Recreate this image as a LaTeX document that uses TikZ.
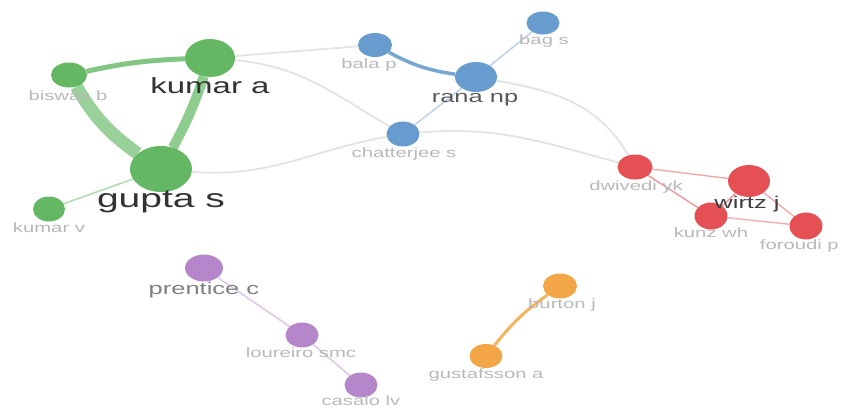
\documentclass[tikz,border=0pt]{standalone}
\usepackage{fontspec}
\setmainfont{Liberation Sans}
\usetikzlibrary{shapes.geometric}
\begin{document}
\begin{tikzpicture}[x=1pt,y=-1pt,
  au/.style 2 args={ellipse,inner sep=0pt,minimum width=#1,minimum height=#2,draw=none},
  lab/.style={text=black!28,font=\fontsize{13.5}{16}\selectfont,inner sep=0pt,xscale=1.5},
  labm/.style={text=black!65,font=\fontsize{17}{20}\selectfont,inner sep=0pt,xscale=1.5},
  labb/.style={text=black!80,font=\fontsize{22}{26}\selectfont,inner sep=0pt,xscale=1.5},
  weak/.style={draw=black!11,line width=1.8pt},
]
\useasboundingbox (0,0) rectangle (841,410);
\definecolor{cg}{RGB}{100,184,100}
\definecolor{cb}{RGB}{104,156,206}
\definecolor{cr}{RGB}{228,80,84}
\definecolor{cp}{RGB}{182,134,202}
\definecolor{co}{RGB}{242,166,72}
\pgfdeclarelayer{bg}\pgfsetlayers{bg,main}
% nodes
\node[au={50pt}{38pt},fill=cg] (ka) at (210,58) {};
\node[au={36pt}{25pt},fill=cg] (bb) at (69,75) {};
\node[au={62pt}{46pt},fill=cg] (gs) at (161,169) {};
\node[au={32pt}{25pt},fill=cg] (kv) at (49,209) {};
\node[au={34pt}{24pt},fill=cb] (bp) at (375,45) {};
\node[au={33pt}{23pt},fill=cb] (bs) at (543,23) {};
\node[au={42pt}{30pt},fill=cb] (rn) at (476,77) {};
\node[au={33pt}{25pt},fill=cb] (cs) at (403,134) {};
\node[au={35pt}{25pt},fill=cr] (dy) at (635,167) {};
\node[au={42pt}{32pt},fill=cr] (wj) at (749,181) {};
\node[au={33pt}{27pt},fill=cr] (kw) at (711,216) {};
\node[au={33pt}{27pt},fill=cr] (fp) at (806,226) {};
\node[au={38pt}{27pt},fill=cp] (pc) at (204,268) {};
\node[au={33pt}{25pt},fill=cp] (ls) at (302,335) {};
\node[au={33pt}{25pt},fill=cp] (cl) at (361,385) {};
\node[au={34pt}{25pt},fill=co] (bj) at (560,286) {};
\node[au={33pt}{24pt},fill=co] (ga) at (486,356) {};
% edges (behind nodes)
\begin{pgfonlayer}{bg}
\draw[weak] (ka) -- (bp);
\draw[weak] (ka) to[out=-5,in=150] (cs);
\draw[weak] (gs) to[out=-5,in=190] (cs);
\draw[weak] (cs) to[out=5,in=165] (dy);
\draw[weak] (rn) to[out=-10,in=120] (dy);
\draw[draw=cg!45,line width=1.8pt] (gs) -- (kv);
\draw[draw=cg!80,line width=5pt] (bb) to[bend left=5] (ka);
\draw[draw=cg!65,line width=13pt] (bb) to[bend right=12] (gs);
\draw[draw=cg!72,line width=10pt] (ka) to[bend left=5] (gs);
\draw[draw=cb!90,line width=3.5pt] (bp) to[bend right=10] (rn);
\draw[draw=cb!45,line width=1.5pt] (rn) -- (bs);
\draw[draw=cb!45,line width=1.5pt] (rn) -- (cs);
\draw[draw=cr!50,line width=1.4pt] (dy) -- (wj);
\draw[draw=cr!60,line width=1.4pt] (dy) -- (kw);
\draw[draw=cr!60,line width=1.4pt] (wj) -- (kw);
\draw[draw=cr!50,line width=1.4pt] (wj) -- (fp);
\draw[draw=cr!45,line width=1.4pt] (kw) -- (fp);
\draw[draw=cp!45,line width=1.6pt] (pc) -- (ls);
\draw[draw=cp!45,line width=1.6pt] (ls) -- (cl);
\draw[draw=co!85,line width=3pt] (ga) to[bend left=8] (bj);
\end{pgfonlayer}
% labels
\node[labb] (lka) at (210,86) {kumar a};
\node[lab] (lbb) at (68,96) {biswas b};
\node[labb,font=\fontsize{26}{30}\selectfont] (lgs) at (161,202) {gupta s};
\node[lab] (lkv) at (49,228) {kumar v};
\node[lab] (lbp) at (369,65) {bala p};
\node[lab] (lbs) at (544,41) {bag s};
\node[labm] (lrn) at (475,100) {rana np};
\node[lab] (lcs) at (404,154) {chatterjee s};
\node[lab] (ldy) at (636,187) {dwivedi yk};
\node[labm,text=black!75] (lwj) at (747,204) {wirtz j};
\node[lab] (lkw) at (711,233) {kunz wh};
\node[lab,anchor=east] (lfp) at (839,246) {foroudi p};
\node[labm,text=black!50] (lpc) at (204,290) {prentice c};
\node[lab] (lls) at (301,353) {loureiro smc};
\node[lab] (lcl) at (361,401) {casalo lv};
\node[lab] (lbj) at (562,305) {burton j};
\node[lab] (lga) at (486,375) {gustafsson a};
\end{tikzpicture}
\end{document}
